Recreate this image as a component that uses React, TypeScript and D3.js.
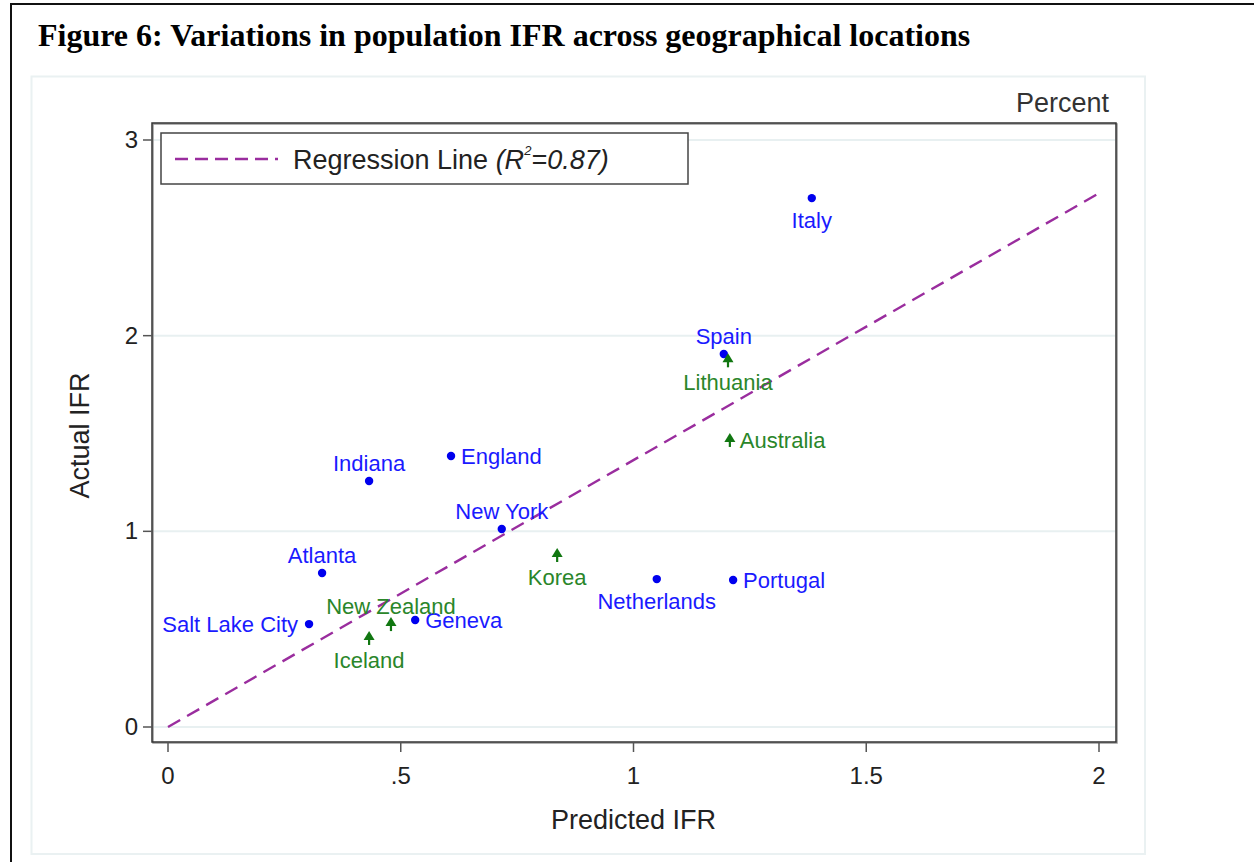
import { useRef, useEffect } from 'react';
import * as d3 from 'd3';

// locations: predicted IFR (x), actual IFR (y), group, label position
const names = ['Italy', 'Spain', 'Lithuania', 'Australia', 'England', 'Indiana', 'New York', 'Korea', 'Atlanta', 'Netherlands', 'Portugal', 'Salt Lake City', 'Geneva', 'New Zealand', 'Iceland'];
const predicted = [1.383, 1.194, 1.203, 1.207, 0.608, 0.432, 0.717, 0.836, 0.331, 1.05, 1.214, 0.303, 0.531, 0.479, 0.432];
const actual = [2.703, 1.906, 1.874, 1.467, 1.385, 1.257, 1.012, 0.879, 0.787, 0.756, 0.751, 0.526, 0.547, 0.526, 0.455];
const groups = ['us', 'us', 'other', 'other', 'us', 'us', 'us', 'other', 'us', 'us', 'us', 'us', 'us', 'other', 'other'];
const labelPos = ['below', 'above', 'below', 'right', 'right', 'above', 'above', 'below', 'above', 'below', 'right', 'left', 'right', 'above', 'below'];

const xTicks = [0, 0.5, 1, 1.5, 2];
const xTickLabels = ['0', '.5', '1', '1.5', '2'];
const yTicks = [0, 1, 2, 3];
const slope = 1.364;
const r2 = '0.87';

const W = 1254;
const H = 862;

export default function App() {
  const svgRef = useRef<SVGSVGElement>(null);

  useEffect(() => {
    const svg = d3.select(svgRef.current);
    svg.selectAll('*').remove();

    const frame = { left: 152, right: 1116, top: 123, bottom: 742 };
    const x = d3.scaleLinear().domain([0, 2]).range([168, 1099]);
    const y = d3.scaleLinear().domain([0, 3]).range([727, 140]);
    const font = "'Liberation Sans', Arial, sans-serif";
    const blue = '#1a1aff';
    const purple = '#9a2d9e';

    svg.append('rect').attr('width', W).attr('height', H).attr('fill', '#fff');

    // outer page border
    svg.append('line').attr('x1', 10).attr('x2', W).attr('y1', 4).attr('y2', 4)
      .attr('stroke', '#111').attr('stroke-width', 2);
    svg.append('line').attr('x1', 11).attr('x2', 11).attr('y1', 3).attr('y2', H)
      .attr('stroke', '#111').attr('stroke-width', 2);

    // title
    svg.append('text')
      .attr('x', 38).attr('y', 46)
      .attr('font-family', "'Liberation Serif', 'Times New Roman', serif")
      .attr('font-weight', 'bold').attr('font-size', '32px').attr('fill', '#000')
      .text('Figure 6: Variations in population IFR across geographical locations');

    // faint graph region
    svg.append('rect')
      .attr('x', 31.5).attr('y', 76.5).attr('width', 1145 - 31.5).attr('height', 854 - 76.5)
      .attr('fill', 'none').attr('stroke', '#eaf1f2').attr('stroke-width', 2);

    // plot area
    svg.append('rect')
      .attr('x', frame.left).attr('y', frame.top)
      .attr('width', frame.right - frame.left).attr('height', frame.bottom - frame.top)
      .attr('fill', '#fff');

    // gridlines
    for (const t of yTicks) {
      svg.append('line')
        .attr('x1', frame.left + 1).attr('x2', frame.right - 1)
        .attr('y1', y(t)).attr('y2', y(t))
        .attr('stroke', '#e8f0f1').attr('stroke-width', 2);
    }

    // frame with slight shadow
    svg.append('rect')
      .attr('x', frame.left + 1).attr('y', frame.top + 1)
      .attr('width', frame.right - frame.left).attr('height', frame.bottom - frame.top)
      .attr('fill', 'none').attr('stroke', '#999').attr('stroke-width', 1.5);
    svg.append('rect')
      .attr('x', frame.left).attr('y', frame.top)
      .attr('width', frame.right - frame.left).attr('height', frame.bottom - frame.top)
      .attr('fill', 'none').attr('stroke', '#333').attr('stroke-width', 1.5);

    // y ticks
    yTicks.forEach((t) => {
      svg.append('line')
        .attr('x1', frame.left - 9).attr('x2', frame.left)
        .attr('y1', y(t)).attr('y2', y(t))
        .attr('stroke', '#555').attr('stroke-width', 1.5);
      svg.append('text')
        .attr('x', frame.left - 14).attr('y', y(t) + 8)
        .attr('text-anchor', 'end')
        .attr('font-family', font).attr('font-size', '24px').attr('fill', '#222')
        .text(String(t));
    });

    // x ticks
    xTicks.forEach((t, i) => {
      svg.append('line')
        .attr('x1', x(t)).attr('x2', x(t))
        .attr('y1', frame.bottom).attr('y2', frame.bottom + 10)
        .attr('stroke', '#555').attr('stroke-width', 1.5);
      svg.append('text')
        .attr('x', x(t)).attr('y', frame.bottom + 42)
        .attr('text-anchor', 'middle')
        .attr('font-family', font).attr('font-size', '24px').attr('fill', '#222')
        .text(xTickLabels[i]);
    });

    // axis titles
    svg.append('text')
      .attr('x', x(1)).attr('y', 829)
      .attr('text-anchor', 'middle')
      .attr('font-family', font).attr('font-size', '27px').attr('fill', '#222')
      .text('Predicted IFR');
    svg.append('text')
      .attr('transform', `translate(89,${y(1.5) + 2}) rotate(-90)`)
      .attr('text-anchor', 'middle')
      .attr('font-family', font).attr('font-size', '27px').attr('fill', '#222')
      .text('Actual IFR');
    svg.append('text')
      .attr('x', 1109).attr('y', 112)
      .attr('text-anchor', 'end')
      .attr('font-family', font).attr('font-size', '27px').attr('fill', '#333')
      .text('Percent');

    // regression line
    const line = d3.line<number>().x((d) => x(d)).y((d) => y(d * slope));
    svg.append('path')
      .datum([0, 2])
      .attr('d', line)
      .attr('fill', 'none').attr('stroke', purple)
      .attr('stroke-width', 2.4).attr('stroke-dasharray', '14,8');

    // markers and labels
    names.forEach((name, i) => {
      const px = x(predicted[i]);
      const py = y(actual[i]);
      const isUS = groups[i] === 'us';
      if (isUS) {
        svg.append('circle').attr('cx', px).attr('cy', py).attr('r', 4.2).attr('fill', '#0000ee');
      } else {
        svg.append('path')
          .attr('d', `M${px},${py - 7}L${px + 5.5},${py + 2}L${px - 5.5},${py + 2}Z`)
          .attr('fill', '#117711');
        svg.append('line')
          .attr('x1', px).attr('x2', px).attr('y1', py).attr('y2', py + 7)
          .attr('stroke', '#117711').attr('stroke-width', 2.2);
      }
      const pos = labelPos[i];
      let lx = px;
      let ly = py;
      let anchor = 'middle';
      if (pos === 'above') { ly = py - 10; }
      else if (pos === 'below') { ly = py + 30; }
      else if (pos === 'right') { lx = px + 10; ly = py + 8; anchor = 'start'; }
      else { lx = px - 11; ly = py + 8; anchor = 'end'; }
      svg.append('text')
        .attr('x', lx).attr('y', ly)
        .attr('text-anchor', anchor)
        .attr('font-family', font).attr('font-size', '22px')
        .attr('fill', isUS ? blue : '#2a862a')
        .text(name);
    });

    // legend
    svg.append('rect')
      .attr('x', 161).attr('y', 133).attr('width', 527).attr('height', 51)
      .attr('fill', '#fff').attr('stroke', '#444').attr('stroke-width', 1.5);
    svg.append('line')
      .attr('x1', 175).attr('x2', 278).attr('y1', 159).attr('y2', 159)
      .attr('stroke', purple).attr('stroke-width', 2.4).attr('stroke-dasharray', '13,7');
    const lt = svg.append('text')
      .attr('x', 293).attr('y', 169)
      .attr('font-family', font).attr('font-size', '27px').attr('fill', '#222');
    lt.append('tspan').text('Regression Line ');
    lt.append('tspan').attr('font-style', 'italic').text('(R');
    lt.append('tspan').attr('font-style', 'italic').attr('font-size', '13px').attr('dy', -14).text('2');
    lt.append('tspan').attr('font-style', 'italic').attr('dy', 14).text(`=${r2})`);
  }, []);

  return (
    <svg
      ref={svgRef}
      width={W}
      height={H}
      viewBox={`0 0 ${W} ${H}`}
      style={{ position: 'absolute', left: 0, top: 0, display: 'block' }}
    />
  );
}
